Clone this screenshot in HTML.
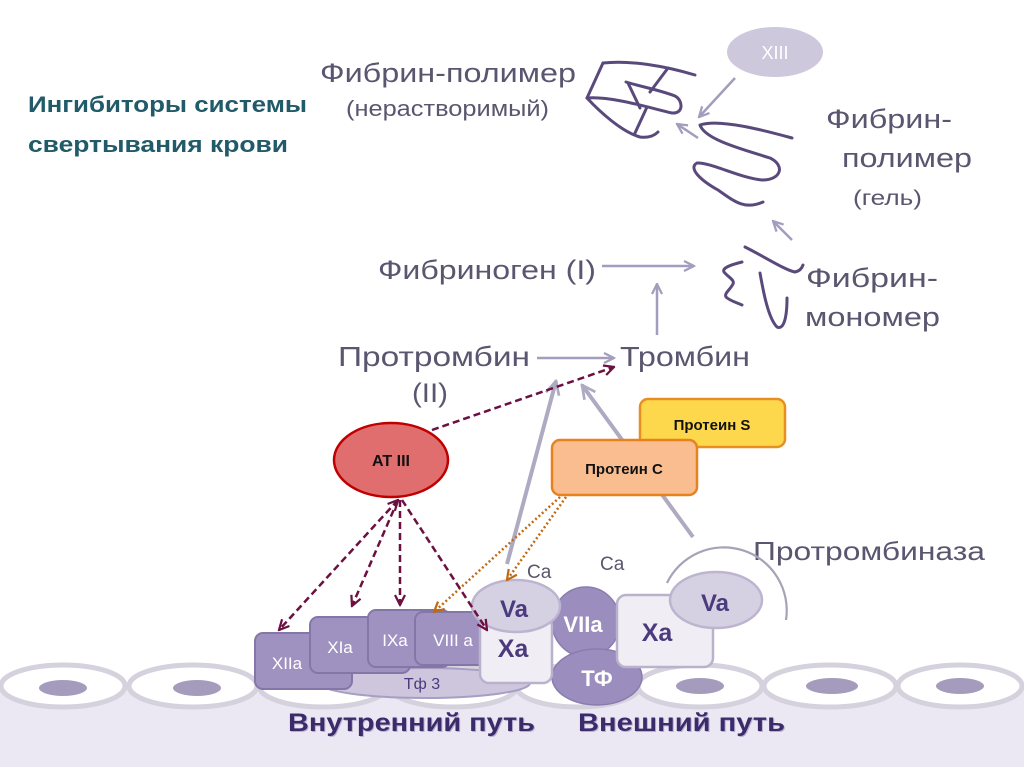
<!DOCTYPE html>
<html>
<head>
<meta charset="utf-8">
<style>
html,body{margin:0;padding:0;background:#fff;}
svg{display:block;}
text{font-family:"Liberation Sans","DejaVu Sans",sans-serif;}
</style>
</head>
<body>
<svg width="1024" height="767" viewBox="0 0 1024 767" xmlns="http://www.w3.org/2000/svg">
<defs>
<marker id="mg" viewBox="0 0 10 10" refX="9" refY="5" markerWidth="5" markerHeight="5" orient="auto" markerUnits="strokeWidth">
<path d="M1,1 L9,5 L1,9" fill="none" stroke="#a39dbd" stroke-width="1.8"/>
</marker>
<marker id="mg2" viewBox="0 0 10 10" refX="9" refY="5" markerWidth="4.2" markerHeight="4.2" orient="auto" markerUnits="strokeWidth">
<path d="M1,1 L9,5 L1,9" fill="none" stroke="#aeaac2" stroke-width="1.6"/>
</marker>
<marker id="mr" viewBox="0 0 10 10" refX="9" refY="5" markerWidth="5" markerHeight="5" orient="auto-start-reverse" markerUnits="strokeWidth">
<path d="M1,1 L9,5 L1,9" fill="none" stroke="#6b1040" stroke-width="1.8"/>
</marker>
<marker id="mo" viewBox="0 0 10 10" refX="9" refY="5" markerWidth="5" markerHeight="5" orient="auto" markerUnits="strokeWidth">
<path d="M1,1 L9,5 L1,9" fill="none" stroke="#c06a14" stroke-width="1.8"/>
</marker>
</defs>

<!-- bottom band -->
<rect x="0" y="682" width="1024" height="85" fill="#ece8f3"/>

<!-- cells -->
<g stroke="#d5d1dd" stroke-width="5" fill="#fff">
<ellipse cx="63" cy="686" rx="62" ry="21"/>
<ellipse cx="193" cy="686" rx="64" ry="21"/>
<ellipse cx="323" cy="686" rx="64" ry="21"/>
<ellipse cx="453" cy="686" rx="64" ry="21"/>
<ellipse cx="578" cy="686" rx="62" ry="21"/>
<ellipse cx="700" cy="686" rx="62" ry="21"/>
<ellipse cx="830" cy="686" rx="66" ry="21"/>
<ellipse cx="960" cy="686" rx="62" ry="21"/>
</g>
<g fill="#a59cbd">
<ellipse cx="63" cy="688" rx="24" ry="8"/>
<ellipse cx="197" cy="688" rx="24" ry="8"/>
<ellipse cx="700" cy="686" rx="24" ry="8"/>
<ellipse cx="832" cy="686" rx="26" ry="8"/>
<ellipse cx="960" cy="686" rx="24" ry="8"/>
</g>

<!-- Title -->
<text x="28" y="112" font-size="22" font-weight="bold" fill="#215a68" textLength="279" lengthAdjust="spacingAndGlyphs">Ингибиторы системы</text>
<text x="28" y="152" font-size="22" font-weight="bold" fill="#215a68" textLength="260" lengthAdjust="spacingAndGlyphs">свертывания крови</text>

<!-- top labels -->
<g fill="#5b566f">
<text x="320" y="82" font-size="27" textLength="256" lengthAdjust="spacingAndGlyphs">Фибрин-полимер</text>
<text x="346" y="116" font-size="22" textLength="203" lengthAdjust="spacingAndGlyphs">(нерастворимый)</text>
<text x="826" y="128" font-size="27" textLength="126" lengthAdjust="spacingAndGlyphs">Фибрин-</text>
<text x="842" y="167" font-size="27" textLength="130" lengthAdjust="spacingAndGlyphs">полимер</text>
<text x="853" y="205" font-size="21" textLength="69" lengthAdjust="spacingAndGlyphs">(гель)</text>
<text x="378" y="279" font-size="27" textLength="218" lengthAdjust="spacingAndGlyphs">Фибриноген (I)</text>
<text x="806" y="287" font-size="27" textLength="132" lengthAdjust="spacingAndGlyphs">Фибрин-</text>
<text x="805" y="326" font-size="27" textLength="135" lengthAdjust="spacingAndGlyphs">мономер</text>
<text x="338" y="366" font-size="28" textLength="192" lengthAdjust="spacingAndGlyphs">Протромбин</text>
<text x="412" y="402" font-size="27" textLength="36" lengthAdjust="spacingAndGlyphs">(II)</text>
<text x="620" y="366" font-size="28" textLength="130" lengthAdjust="spacingAndGlyphs">Тромбин</text>
<text x="753" y="560" font-size="26" textLength="232" lengthAdjust="spacingAndGlyphs">Протромбиназа</text>
<text x="527" y="578" font-size="19">Ca</text>
<text x="600" y="570" font-size="19">Ca</text>
</g>

<!-- XIII -->
<ellipse cx="775" cy="52" rx="48" ry="25" fill="#cdc8dc"/>
<text x="775" y="59" font-size="18" fill="#fff" text-anchor="middle">XIII</text>

<!-- fibrin shapes -->
<g fill="none" stroke="#5a4a7c" stroke-width="3" stroke-linecap="round" stroke-linejoin="round">
<!-- insoluble polymer -->
<path d="M603,63 C630,60 665,66 695,75"/>
<path d="M603,63 L587,98"/>
<path d="M587,98 C600,112 622,132 640,137 C648,138 654,136 658,132"/>
<path d="M587,98 C612,96 650,108 672,113 C684,114 683,100 675,96 C660,90 642,87 626,82"/>
<path d="M668,68 L650,92"/>
<path d="M628,83 L640,108"/>
<path d="M647,107 L635,133"/>
<!-- gel polymer -->
<path d="M792,138 C770,132 720,118 700,125 C705,140 745,150 770,158 C785,165 782,180 762,180 C740,178 710,162 697,163 C688,168 700,180 718,190 C735,202 745,210 763,202"/>
<!-- monomer -->
<path d="M742,262 C730,265 722,268 724,272 C728,277 735,280 733,284 C730,290 724,293 726,297 C730,301 738,303 742,305"/>
<path d="M745,247 C765,257 785,270 795,272 C800,271 802,268 803,265"/>
<path d="M760,273 C763,290 768,318 777,327 C783,330 787,320 787,298"/>
</g>

<!-- light arrows -->
<g stroke="#a39dbd" stroke-width="2.5" fill="none">
<line x1="735" y1="78" x2="699" y2="117" marker-end="url(#mg)"/>
<line x1="698" y1="138" x2="677" y2="124" marker-end="url(#mg)"/>
<line x1="792" y1="240" x2="773" y2="221" marker-end="url(#mg)"/>
<line x1="602" y1="266" x2="694" y2="266" marker-end="url(#mg)"/>
<line x1="657" y1="335" x2="657" y2="284" marker-end="url(#mg)"/>
<line x1="537" y1="358" x2="614" y2="358" marker-end="url(#mg)"/>
</g>
<!-- thick gray lines -->
<g stroke="#aeaac2" stroke-width="4" fill="none">
<line x1="507" y1="564" x2="556" y2="381" marker-end="url(#mg2)"/>
<line x1="693" y1="537" x2="582" y2="385" marker-end="url(#mg2)"/>
</g>
<!-- prothrombinase arc -->
<path d="M667,583 A63,63 0 0,1 786,620" fill="none" stroke="#a6a2b8" stroke-width="2.2"/>

<!-- Тф 3 ellipse -->
<ellipse cx="425" cy="683" rx="105" ry="15" fill="#cdc6dd" stroke="#a89ec3" stroke-width="2"/>
<text x="422" y="689" font-size="16" fill="#4b3a7d" text-anchor="middle">Тф 3</text>

<!-- intrinsic boxes -->
<g stroke="#8576a8" stroke-width="2" fill="#9f92c0">
<rect x="255" y="633" width="97" height="56" rx="8"/>
<rect x="310" y="617" width="100" height="56" rx="8"/>
<rect x="368" y="610" width="82" height="57" rx="8"/>
<rect x="415" y="612" width="85" height="53" rx="8"/>
</g>
<g fill="#fff" font-size="17" text-anchor="middle">
<text x="287" y="669">XIIa</text>
<text x="340" y="653">XIa</text>
<text x="395" y="646">IXa</text>
<text x="453" y="646">VIII a</text>
</g>

<!-- extrinsic -->
<ellipse cx="586" cy="622" rx="34" ry="35" fill="#9b8dbd" stroke="#8a7cae" stroke-width="1.5"/>
<ellipse cx="597" cy="677" rx="45" ry="28" fill="#9b8dbd" stroke="#8a7cae" stroke-width="1.5"/>
<text x="583" y="632" font-size="22" font-weight="bold" fill="#fff" text-anchor="middle">VIIa</text>
<text x="597" y="686" font-size="22" font-weight="bold" fill="#fff" text-anchor="middle">ТФ</text>

<!-- Xa intrinsic -->
<rect x="480" y="617" width="72" height="66" rx="9" fill="#f0edf5" stroke="#bab2cc" stroke-width="2.5"/>
<ellipse cx="516" cy="606" rx="44" ry="26" fill="#d6d1e2" stroke="#bdb5cf" stroke-width="2.5"/>
<text x="513" y="657" font-size="25" font-weight="bold" fill="#4b3a7d" text-anchor="middle">Xa</text>
<text x="514" y="617" font-size="24" font-weight="bold" fill="#4b3a7d" text-anchor="middle">Va</text>

<!-- Xa extrinsic -->
<rect x="617" y="595" width="96" height="72" rx="9" fill="#f0edf5" stroke="#bab2cc" stroke-width="2.5"/>
<ellipse cx="716" cy="600" rx="46" ry="28" fill="#d6d1e2" stroke="#bdb5cf" stroke-width="2.5"/>
<text x="657" y="641" font-size="25" font-weight="bold" fill="#4b3a7d" text-anchor="middle">Xa</text>
<text x="715" y="611" font-size="24" font-weight="bold" fill="#4b3a7d" text-anchor="middle">Va</text>

<!-- bottom labels -->
<g font-size="25" font-weight="bold">
<text x="289" y="732" fill="#b9b0d0" textLength="247" lengthAdjust="spacingAndGlyphs">Внутренний путь</text>
<text x="579" y="732" fill="#b9b0d0" textLength="207" lengthAdjust="spacingAndGlyphs">Внешний путь</text>
<text x="288" y="731" fill="#3b2b6b" textLength="247" lengthAdjust="spacingAndGlyphs">Внутренний путь</text>
<text x="578" y="731" fill="#3b2b6b" textLength="207" lengthAdjust="spacingAndGlyphs">Внешний путь</text>
</g>

<!-- Protein S / C -->
<rect x="640" y="399" width="145" height="48" rx="8" fill="#fdd84d" stroke="#e98f22" stroke-width="2.5"/>
<text x="712" y="430" font-size="15" font-weight="bold" fill="#111" text-anchor="middle">Протеин S</text>
<rect x="552" y="440" width="145" height="55" rx="8" fill="#f9bd90" stroke="#e8821f" stroke-width="2.5"/>
<text x="624" y="474" font-size="15" font-weight="bold" fill="#111" text-anchor="middle">Протеин C</text>

<!-- AT III -->
<ellipse cx="391" cy="460" rx="57" ry="37" fill="#e06e6e" stroke="#c00000" stroke-width="2.5"/>
<text x="391" y="466" font-size="16" font-weight="bold" fill="#111" text-anchor="middle">AT III</text>

<!-- orange dotted arrows -->
<g stroke="#c06a14" stroke-width="2.5" stroke-dasharray="2 2.5" fill="none">
<line x1="566" y1="497" x2="507" y2="580" marker-end="url(#mo)"/>
<line x1="560" y1="497" x2="434" y2="612" marker-end="url(#mo)"/>
</g>

<!-- maroon dashed arrows -->
<g stroke="#6b1040" stroke-width="2.5" stroke-dasharray="7 4" fill="none">
<line x1="432" y1="430" x2="614" y2="367" marker-end="url(#mr)"/>
<line x1="398" y1="500" x2="279" y2="630" marker-end="url(#mr)" marker-start="url(#mr)"/>
<line x1="398" y1="500" x2="352" y2="606" marker-end="url(#mr)"/>
<line x1="400" y1="500" x2="400" y2="605" marker-end="url(#mr)"/>
<line x1="402" y1="500" x2="487" y2="630" marker-end="url(#mr)"/>
</g>
</svg>
</body>
</html>
